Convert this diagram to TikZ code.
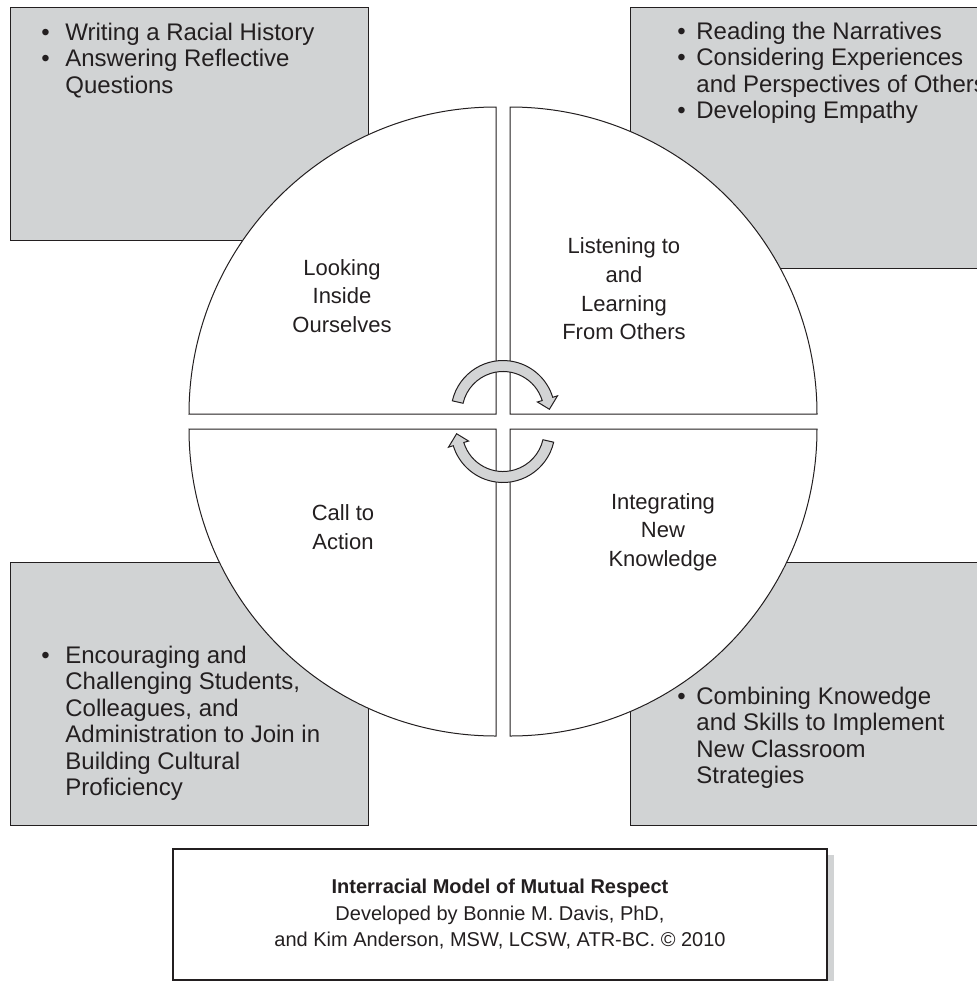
\documentclass[tikz,border=0pt]{standalone}
\usepackage{fontspec}
\setmainfont{Liberation Sans}
\usepackage{xcolor}
\definecolor{inkDark}{HTML}{231F20}
\definecolor{panelGrey}{HTML}{D1D3D4}
\definecolor{arrowGrey}{HTML}{D3D4D5}
\usepackage{tikz}
\usetikzlibrary{positioning,calc,shadows}
\tikzset{%
  panelBox/.style={%
    rectangle,
    draw=inkDark,
    fill=panelGrey,
    line width=0.6pt,
    inner sep=0pt,
    anchor=north west
  },
  quarter/.style={%
    draw=inkDark,
    fill=white,
    line width=0.5pt
  },
  quarterLabel/.style={%
    align=center,
    inner sep=0pt,
    text=inkDark,
    font=\fontsize{11}{14.3}\selectfont
  },
  bulletList/.style={%
    anchor=north west,
    inner sep=0pt,
    text=inkDark,
    font=\fontsize{12}{13.25}\selectfont
  },
  cycleArrow/.style={%
    draw=inkDark,
    fill=arrowGrey,
    line width=0.5pt,
    line join=miter
  },
  creditBox/.style={%
    rectangle,
    draw=inkDark,
    fill=white,
    line width=1pt,
    minimum width=327pt,
    minimum height=65.5pt,
    align=center,
    text=inkDark,
    font=\fontsize{10}{13.25}\selectfont,
    drop shadow={shadow xshift=3.5pt, shadow yshift=-3pt, fill=panelGrey, opacity=1}
  }
}

\begin{document}
\begin{tikzpicture}[x=0.5pt, y=0.5pt]
            \useasboundingbox (0,0) rectangle (976,-981);

            % grey panels behind the circle
            \node[panelBox, minimum width=179pt, minimum height=116.5pt] (tlBox) at (10,-7) {};
            \node[panelBox, minimum width=181pt, minimum height=130.5pt] (trBox) at (630,-7) {};
            \node[panelBox, minimum width=179pt, minimum height=131.5pt] (blBox) at (10,-562) {};
            \node[panelBox, minimum width=181pt, minimum height=131.5pt] (brBox) at (630,-562) {};

            \node[bulletList, below right=7.25pt and 15.5pt of tlBox.north west] (tlList) {%
              \begin{tabular}{@{}p{12pt}@{}l@{}}
                \textbullet & Writing a Racial History\\
                \textbullet & Answering Reflective\\
                            & Questions
              \end{tabular}};
            \node[bulletList, below right=6.75pt and 23.5pt of trBox.north west] (trList) {%
              \begin{tabular}{@{}p{9.5pt}@{}l@{}}
                \textbullet & Reading the Narratives\\
                \textbullet & Considering Experiences\\
                            & and Perspectives of Others\\
                \textbullet & Developing Empathy
              \end{tabular}};
            \node[bulletList, below right=41.25pt and 15.5pt of blBox.north west] (blList) {%
              \begin{tabular}{@{}p{12pt}@{}l@{}}
                \textbullet & Encouraging and\\
                            & Challenging Students,\\
                            & Colleagues, and\\
                            & Administration to Join in\\
                            & Building Cultural\\
                            & Proficiency
              \end{tabular}};
            \node[bulletList, below right=61.75pt and 23.5pt of brBox.north west] (brList) {%
              \begin{tabular}{@{}p{9.5pt}@{}l@{}}
                \textbullet & Combining Knowedge\\
                            & and Skills to Implement\\
                            & New Classroom\\
                            & Strategies
              \end{tabular}};

            % four quarters of the circle
            \coordinate (hub) at (503,-421.5);
            \foreach \sx/\sy/\a in {-1/1/90, 1/1/0, 1/-1/270, -1/-1/180}
              \draw[quarter] ($(hub)+(\sx*7,\sy*7.5)$) -- ++(\a:153.5pt)
                arc[start angle=\a, end angle=\a+90, radius=153.5pt] -- cycle;

            \node[quarterLabel] (inside) at (342,-296) {Looking\\Inside\\Ourselves};
            \node[quarterLabel] (listen) at (624,-289) {Listening to\\and\\Learning\\From Others};
            \node[quarterLabel] (action) at (343,-527) {Call to\\Action};
            \node[quarterLabel] (integrate) at (663,-532) {Integrating\\New\\Knowledge};

            % turning arrows in the middle
            \foreach \rot in {0,180}
              \filldraw[cycleArrow, shift={(hub)}, rotate=\rot, yshift=4.5pt]
                (167:26pt) arc[start angle=167, end angle=17, radius=26pt]
                -- (17:28.5pt) -- (4:23.25pt) -- (17:18pt) -- (17:20.5pt)
                arc[start angle=17, end angle=167, radius=20.5pt] -- cycle;

            \node[creditBox] (credit) at (500,-914.5) {\textbf{Interracial Model of Mutual Respect}\\
              Developed by Bonnie M. Davis, PhD,\\
              and Kim Anderson, MSW, LCSW, ATR-BC. \textcopyright\ 2010};
        \end{tikzpicture}
\end{document}
